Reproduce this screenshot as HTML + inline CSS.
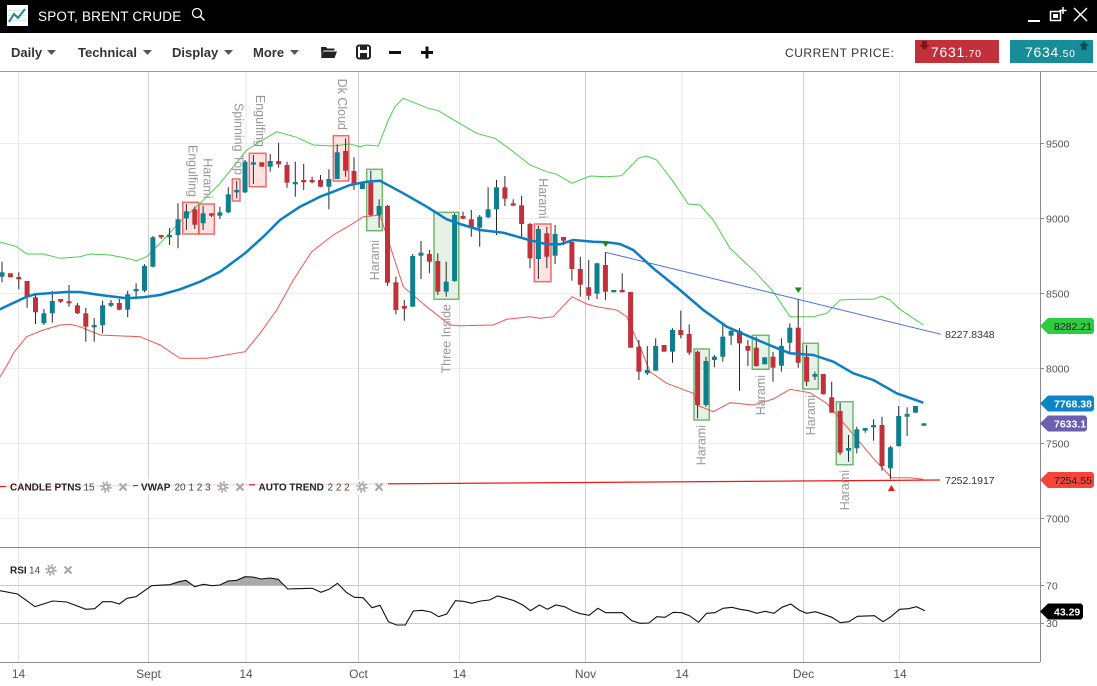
<!DOCTYPE html>
<html><head><meta charset="utf-8">
<style>
html,body{margin:0;padding:0;background:#fff;}
body{width:1097px;height:686px;overflow:hidden;position:relative;font-family:"Liberation Sans",sans-serif;}
svg{position:absolute;left:0;top:0;}
</style></head>
<body>
<svg width="1097" height="686" viewBox="0 0 1097 686" xmlns="http://www.w3.org/2000/svg" font-family="Liberation Sans, sans-serif">
<defs>
<clipPath id="main"><rect x="0" y="72" width="1040" height="475"/></clipPath>
<clipPath id="rsiTop"><rect x="0" y="548" width="1040" height="37.5"/></clipPath>
</defs>

<!-- HEADER -->
<rect x="0" y="0" width="1097" height="33" fill="#000"/>
<rect x="7" y="5" width="21" height="21" fill="#fff"/>
<g stroke="#e4e4e4" stroke-width="1"><line x1="8" y1="10.5" x2="27" y2="10.5"/><line x1="8" y1="15.5" x2="27" y2="15.5"/><line x1="8" y1="20.5" x2="27" y2="20.5"/></g>
<polyline points="9,22 14,14 18,18 25,9" fill="none" stroke="#1a8a96" stroke-width="2"/>
<text x="38" y="21" fill="#fff" font-size="13.5" letter-spacing="0.2">SPOT, BRENT CRUDE</text>
<circle cx="197" cy="13" r="4.5" fill="none" stroke="#fff" stroke-width="1.3"/>
<line x1="200.3" y1="16.3" x2="204.5" y2="20.5" stroke="#fff" stroke-width="1.5"/>
<line x1="1028" y1="21" x2="1040" y2="21" stroke="#fff" stroke-width="2"/>
<rect x="1050.5" y="11.5" width="10" height="9" fill="none" stroke="#fff" stroke-width="1.5"/>
<rect x="1053" y="14" width="5" height="4" fill="#fff"/>
<line x1="1063" y1="7" x2="1063" y2="14" stroke="#fff" stroke-width="1.5"/>
<line x1="1059.5" y1="10.5" x2="1066.5" y2="10.5" stroke="#fff" stroke-width="1.5"/>
<g stroke="#fff" stroke-width="1.5"><line x1="1074" y1="8" x2="1087" y2="21"/><line x1="1087" y1="8" x2="1074" y2="21"/></g>

<!-- TOOLBAR -->
<g font-size="13" font-weight="bold" fill="#333">
<text x="11" y="57">Daily</text>
<text x="78" y="57">Technical</text>
<text x="172" y="57">Display</text>
<text x="253" y="57">More</text>
</g>
<g fill="#555">
<polygon points="47,50 56,50 51.5,55"/>
<polygon points="143,50 152,50 147.5,55"/>
<polygon points="224,50 233,50 228.5,55"/>
<polygon points="290,50 299,50 294.5,55"/>
</g>
<!-- folder -->
<path d="M321,47 h5 l1.5,1.5 h7 v2 h-11 l-2,7 z" fill="#222"/>
<path d="M323.5,51.5 h13.5 l-2.5,6.5 h-13.5 z" fill="#222"/>
<!-- save -->
<rect x="357" y="45.5" width="13" height="13" rx="2" fill="none" stroke="#222" stroke-width="2"/>
<rect x="360" y="46" width="7" height="4" fill="#222"/>
<rect x="360" y="53" width="7" height="5" fill="#222"/>
<!-- minus / plus -->
<rect x="389" y="51" width="12" height="3" fill="#111"/>
<rect x="421" y="51" width="12" height="3" fill="#111"/>
<rect x="425.5" y="46.5" width="3" height="12" fill="#111"/>

<text x="785" y="57" font-size="12" letter-spacing="0.55" fill="#333">CURRENT PRICE:</text>
<rect x="915" y="40" width="84" height="23" fill="#c2303c"/>
<polygon points="922,41 927,41 927,45 929.5,45 924.5,50 919.5,45 922,45" fill="#7a1520"/>
<text x="931" y="57" font-size="14" fill="#fff" letter-spacing="0.7">7631<tspan font-size="10.5">.70</tspan></text>
<rect x="1010" y="40" width="83" height="23" fill="#178d99"/>
<polygon points="1084,41 1089,46 1086.5,46 1086.5,50 1081.5,50 1081.5,46 1079,46" fill="#0b4f58"/>
<text x="1025" y="57" font-size="14" fill="#fff" letter-spacing="0.7">7634<tspan font-size="10.5">.50</tspan></text>
<line x1="0" y1="71.5" x2="1097" y2="71.5" stroke="#9a9a9a" stroke-width="1"/>

<!-- GRID -->
<g stroke="#ececec" stroke-width="1">
<line x1="0" y1="143.5" x2="1040" y2="143.5"/>
<line x1="0" y1="218.5" x2="1040" y2="218.5"/>
<line x1="0" y1="293.5" x2="1040" y2="293.5"/>
<line x1="0" y1="368.5" x2="1040" y2="368.5"/>
<line x1="0" y1="443.5" x2="1040" y2="443.5"/>
<line x1="0" y1="518.5" x2="1040" y2="518.5"/>
</g>
<g stroke="#e6e6e6" stroke-width="1">
<line x1="18.5" y1="72" x2="18.5" y2="662"/>
<line x1="246" y1="72" x2="246" y2="662"/>
<line x1="459.5" y1="72" x2="459.5" y2="662"/>
<line x1="682" y1="72" x2="682" y2="662"/>
<line x1="899.5" y1="72" x2="899.5" y2="662"/>
</g>
<g stroke="#cfcfcf" stroke-width="1">
<line x1="148.5" y1="72" x2="148.5" y2="662"/>
<line x1="358.5" y1="72" x2="358.5" y2="662"/>
<line x1="585.5" y1="72" x2="585.5" y2="662"/>
<line x1="803.5" y1="72" x2="803.5" y2="662"/>
</g>

<g clip-path="url(#main)">
<!-- pattern boxes -->
<g fill="rgba(255,90,90,0.17)" stroke="rgba(240,80,80,0.85)" stroke-width="1.5">
<rect x="182.7" y="202.3" width="16" height="31.7"/>
<rect x="199" y="204" width="15.3" height="30"/>
<rect x="232.3" y="179" width="7.7" height="22"/>
<rect x="249.3" y="153.3" width="16.7" height="33.4"/>
<rect x="333.3" y="135.7" width="15.4" height="45.3"/>
<rect x="534.3" y="224" width="16.7" height="57.7"/>
</g>
<g fill="rgba(110,180,110,0.17)" stroke="rgba(100,175,100,0.9)" stroke-width="1.5">
<rect x="366.7" y="169.3" width="15.6" height="61.4"/>
<rect x="434" y="212.3" width="24.7" height="87"/>
<rect x="694" y="349" width="15.3" height="71"/>
<rect x="752.3" y="335.3" width="16.7" height="34"/>
<rect x="802.7" y="343.3" width="15.6" height="45.7"/>
<rect x="836.3" y="401.7" width="16.7" height="63"/>
</g>

<!-- bands -->
<polyline fill="none" stroke="#4ccf4c" stroke-width="1" points="0,242 16.7,246.7 26.7,254 43.3,254 60,258.3 80,256.7 90,254 110,255 126.7,258.3 136.7,260.7 146.7,256.7 160,243.3 180,221.7 200,203.3 220,183.3 246.7,150 260,141.7 276.7,131.7 296.7,137.3 313.3,145 333.3,146 350,144 360,146.7 366.7,145 378.3,146 388.3,120 395,106.7 403.3,98.3 428.3,108.3 438.3,110.7 456.7,121.7 476.7,133.3 495,138.3 513.3,151.7 530,165 546.7,171.7 556.7,174.3 572,183.3 590,176 606.7,176.7 621.7,175.7 638.3,158.3 646.7,156 656.7,160 673.3,181.7 688.3,204 700,205 713.3,220 730,248.3 755,271.7 773.3,291.7 790,316.7 813.3,316.7 826.7,313.3 840,300 856.7,299.3 873.3,299.3 881.7,296 890,300 900,309.3 913.3,318.3 923.3,325"/>
<polyline fill="none" stroke="#f2564e" stroke-width="1" points="0,377 10,360 13.3,353.3 26.7,336.7 43.3,330 60,325 70,324.3 80,326.7 100,335 140,336.7 160,345 180,358.3 206.7,358.3 245,351.7 260,333.3 276.7,310 293.3,280 311.7,251.7 333.3,235 353.3,223.3 363.3,216.7 380,215 403.3,286.7 426.7,306.7 450,325 460,325.7 493.3,325 506.7,319.3 530,316.7 540,318.3 553.3,316.7 572,296.7 586.7,304 596.7,306.7 616.7,310 626.7,316.7 640,346.7 650,371.7 666.7,383.3 680,388.3 693.3,393.3 696.7,405 713.3,411.7 730,402.7 753.3,405 773.3,399 790,389.3 810,392.7 826.7,403.3 846.7,426.7 873.3,458.3 891.7,477.7 910,477.7 923.3,479.3"/>

<!-- trend lines -->
<line x1="605.7" y1="252.3" x2="941" y2="334.3" stroke="#4a6cf0" stroke-width="1"/>
<line x1="0" y1="486.5" x2="940" y2="480" stroke="#f01818" stroke-width="1.3"/>

<!-- candles wicks -->
<g stroke="#2a2a2a" stroke-width="1">
<line x1="2" y1="261.7" x2="2" y2="282.3"/><line x1="10.4" y1="273.3" x2="10.4" y2="277.3"/><line x1="18.8" y1="272.3" x2="18.8" y2="289.3"/><line x1="27.1" y1="281" x2="27.1" y2="307.7"/><line x1="35.5" y1="293" x2="35.5" y2="324"/><line x1="43.9" y1="309" x2="43.9" y2="325"/><line x1="52.3" y1="291" x2="52.3" y2="322.7"/><line x1="60.7" y1="299" x2="60.7" y2="303"/><line x1="69" y1="285" x2="69" y2="306.7"/><line x1="77.4" y1="303" x2="77.4" y2="314"/>
<line x1="85.8" y1="308" x2="85.8" y2="341.7"/><line x1="94.2" y1="318" x2="94.2" y2="341.7"/><line x1="102.6" y1="300.7" x2="102.6" y2="333.3"/><line x1="111" y1="300" x2="111" y2="307"/><line x1="119.3" y1="299" x2="119.3" y2="310.3"/><line x1="127.7" y1="290.7" x2="127.7" y2="317.3"/><line x1="136.1" y1="283.3" x2="136.1" y2="298.3"/><line x1="144.5" y1="264.3" x2="144.5" y2="292.3"/><line x1="152.9" y1="236" x2="152.9" y2="267.3"/><line x1="161.2" y1="235" x2="161.2" y2="239"/>
<line x1="169.6" y1="228" x2="169.6" y2="245"/><line x1="178" y1="203.3" x2="178" y2="248.3"/><line x1="186.4" y1="204" x2="186.4" y2="230"/><line x1="194.8" y1="206.7" x2="194.8" y2="229"/><line x1="203.1" y1="206" x2="203.1" y2="230"/><line x1="211.5" y1="213.3" x2="211.5" y2="217"/><line x1="219.9" y1="206.7" x2="219.9" y2="219"/><line x1="228.3" y1="187.3" x2="228.3" y2="213.3"/><line x1="236.7" y1="181" x2="236.7" y2="198.3"/><line x1="245" y1="160" x2="245" y2="193"/>
<line x1="253.4" y1="155" x2="253.4" y2="184"/><line x1="261.8" y1="162.3" x2="261.8" y2="166.7"/><line x1="270.2" y1="154" x2="270.2" y2="171.7"/><line x1="278.6" y1="142.7" x2="278.6" y2="167.7"/><line x1="287" y1="161.7" x2="287" y2="187.7"/><line x1="295.3" y1="161.7" x2="295.3" y2="196.7"/><line x1="303.7" y1="164" x2="303.7" y2="190"/><line x1="312.1" y1="176.7" x2="312.1" y2="183.3"/><line x1="320.5" y1="175" x2="320.5" y2="187.3"/><line x1="328.9" y1="169.3" x2="328.9" y2="209.3"/>
<line x1="337.2" y1="144.3" x2="337.2" y2="179"/><line x1="345.6" y1="138.3" x2="345.6" y2="176.7"/><line x1="354" y1="157.3" x2="354" y2="190"/><line x1="362.4" y1="183.3" x2="362.4" y2="189"/><line x1="370.8" y1="170.7" x2="370.8" y2="216.7"/><line x1="379.1" y1="199.3" x2="379.1" y2="227.7"/><line x1="387.5" y1="205" x2="387.5" y2="285.7"/><line x1="395.9" y1="276.7" x2="395.9" y2="314.3"/><line x1="404.3" y1="300" x2="404.3" y2="320.7"/><line x1="412.7" y1="254" x2="412.7" y2="306.7"/>
<line x1="421" y1="241" x2="421" y2="279"/><line x1="429.4" y1="250" x2="429.4" y2="273.3"/><line x1="437.8" y1="253.3" x2="437.8" y2="295"/><line x1="446.2" y1="261.7" x2="446.2" y2="296.7"/><line x1="454.6" y1="213.3" x2="454.6" y2="281.7"/><line x1="463" y1="211.7" x2="463" y2="219.3"/><line x1="471.3" y1="210" x2="471.3" y2="236.7"/><line x1="479.7" y1="215" x2="479.7" y2="246.7"/><line x1="488.1" y1="187.3" x2="488.1" y2="218.3"/><line x1="496.5" y1="180" x2="496.5" y2="235"/>
<line x1="504.9" y1="176" x2="504.9" y2="206"/><line x1="513.2" y1="199.3" x2="513.2" y2="205.7"/><line x1="521.6" y1="196" x2="521.6" y2="236.7"/><line x1="530" y1="222.7" x2="530" y2="268.3"/><line x1="538.4" y1="225.7" x2="538.4" y2="279"/><line x1="546.8" y1="226.7" x2="546.8" y2="268.3"/><line x1="555.1" y1="225" x2="555.1" y2="264"/><line x1="563.5" y1="237" x2="563.5" y2="245"/><line x1="571.9" y1="242" x2="571.9" y2="280.7"/><line x1="580.3" y1="256.7" x2="580.3" y2="296.7"/>
<line x1="588.7" y1="260" x2="588.7" y2="300"/><line x1="597" y1="262.7" x2="597" y2="299"/><line x1="605.4" y1="252.3" x2="605.4" y2="300"/><line x1="613.8" y1="290" x2="613.8" y2="292.3"/><line x1="622.2" y1="273.3" x2="622.2" y2="292.3"/><line x1="630.6" y1="292" x2="630.6" y2="347.7"/><line x1="638.9" y1="340" x2="638.9" y2="380"/><line x1="647.3" y1="346" x2="647.3" y2="375"/><line x1="655.7" y1="338.3" x2="655.7" y2="370.7"/><line x1="664.1" y1="345" x2="664.1" y2="351.7"/>
<line x1="672.5" y1="328.3" x2="672.5" y2="362.7"/><line x1="680.8" y1="310.7" x2="680.8" y2="338.3"/><line x1="689.2" y1="324.3" x2="689.2" y2="355"/><line x1="697.6" y1="350.7" x2="697.6" y2="418.3"/><line x1="706" y1="356.7" x2="706" y2="406.7"/><line x1="714.4" y1="355" x2="714.4" y2="367.3"/><line x1="722.8" y1="325.3" x2="722.8" y2="361.7"/><line x1="731.1" y1="328.3" x2="731.1" y2="345"/><line x1="739.5" y1="328.3" x2="739.5" y2="390.7"/><line x1="747.9" y1="340" x2="747.9" y2="366"/>
<line x1="756.3" y1="336.7" x2="756.3" y2="366.7"/><line x1="764.7" y1="357.3" x2="764.7" y2="364.3"/><line x1="773" y1="351.7" x2="773" y2="381.7"/><line x1="781.4" y1="338.3" x2="781.4" y2="371.7"/><line x1="789.8" y1="323.3" x2="789.8" y2="352.7"/><line x1="798.2" y1="299.3" x2="798.2" y2="367.7"/><line x1="806.6" y1="345" x2="806.6" y2="386"/><line x1="814.9" y1="371.7" x2="814.9" y2="380"/><line x1="823.3" y1="374" x2="823.3" y2="394.3"/><line x1="831.7" y1="381.7" x2="831.7" y2="412.7"/>
<line x1="840.1" y1="402.7" x2="840.1" y2="455"/><line x1="848.5" y1="435" x2="848.5" y2="461.7"/><line x1="856.8" y1="426.7" x2="856.8" y2="453.3"/><line x1="865.2" y1="428" x2="865.2" y2="432.7"/><line x1="873.6" y1="419.3" x2="873.6" y2="440.7"/><line x1="882" y1="416.7" x2="882" y2="470.7"/><line x1="890.4" y1="446" x2="890.4" y2="479.3"/><line x1="898.7" y1="406" x2="898.7" y2="446.7"/><line x1="907.1" y1="407.3" x2="907.1" y2="436"/><line x1="915.5" y1="406" x2="915.5" y2="412.7"/>
<line x1="923.9" y1="423.3" x2="923.9" y2="425.7"/>
</g>
<!-- red bodies -->
<g fill="#c1303b">
<rect x="7.9" y="273.3" width="5" height="4"/><rect x="16.3" y="277" width="5" height="2.3"/><rect x="24.6" y="281" width="5" height="16.3"/><rect x="33" y="297.3" width="5" height="15"/><rect x="58.2" y="299" width="5" height="2.7"/><rect x="66.5" y="301.3" width="5" height="2"/><rect x="74.9" y="305.3" width="5" height="8"/><rect x="83.3" y="313.3" width="5" height="13.4"/><rect x="116.8" y="303" width="5" height="6.7"/><rect x="158.7" y="235" width="5" height="2.3"/>
<rect x="192.3" y="209.3" width="5" height="15.4"/><rect x="209" y="213.3" width="5" height="2.4"/><rect x="259.3" y="162.3" width="5" height="4.4"/><rect x="276.1" y="161" width="5" height="3.3"/><rect x="284.5" y="165" width="5" height="17.7"/><rect x="301.2" y="180" width="5" height="2.3"/><rect x="309.6" y="180" width="5" height="2.3"/><rect x="318" y="180" width="5" height="6.7"/><rect x="343.1" y="151" width="5" height="19.7"/><rect x="351.5" y="171" width="5" height="12.3"/>
<rect x="368.3" y="182.7" width="5" height="32.3"/><rect x="385" y="206" width="5" height="76.7"/><rect x="393.4" y="282.3" width="5" height="27.7"/><rect x="401.8" y="306" width="5" height="2.7"/><rect x="426.9" y="254" width="5" height="7.7"/><rect x="435.3" y="261" width="5" height="30.7"/><rect x="460.5" y="216" width="5" height="2.7"/><rect x="468.8" y="219.3" width="5" height="8"/><rect x="502.4" y="187.3" width="5" height="11.4"/><rect x="510.7" y="203.3" width="5" height="2.4"/>
<rect x="519.1" y="205.3" width="5" height="18.7"/><rect x="527.5" y="224" width="5" height="34.3"/><rect x="544.3" y="233.3" width="5" height="23.4"/><rect x="561" y="237" width="5" height="3.7"/><rect x="569.4" y="242" width="5" height="27"/><rect x="577.8" y="269" width="5" height="15.7"/><rect x="586.2" y="287.3" width="5" height="8.4"/><rect x="602.9" y="265" width="5" height="26.7"/><rect x="619.7" y="290" width="5" height="2.3"/><rect x="628.1" y="292" width="5" height="55.7"/>
<rect x="636.4" y="346.7" width="5" height="25"/><rect x="661.6" y="345" width="5" height="6.7"/><rect x="678.3" y="330" width="5" height="5"/><rect x="686.7" y="334" width="5" height="18.7"/><rect x="695.1" y="351.7" width="5" height="53.3"/><rect x="737" y="331" width="5" height="12.3"/><rect x="745.4" y="346" width="5" height="4.7"/><rect x="753.8" y="347.7" width="5" height="18.3"/><rect x="770.5" y="356.7" width="5" height="11"/><rect x="795.7" y="327.7" width="5" height="35"/>
<rect x="804.1" y="356.7" width="5" height="25"/><rect x="820.8" y="374" width="5" height="20.3"/><rect x="829.2" y="397.3" width="5" height="15.4"/><rect x="837.6" y="411" width="5" height="41.7"/><rect x="879.5" y="425" width="5" height="41"/>
</g>
<!-- teal bodies -->
<g fill="#0d7f8d">
<rect x="-0.5" y="272.3" width="5" height="4.4"/><rect x="41.4" y="313.3" width="5" height="10"/><rect x="49.8" y="301" width="5" height="12.3"/><rect x="91.7" y="325" width="5" height="2.3"/><rect x="100.1" y="305.3" width="5" height="19.7"/><rect x="108.5" y="303" width="5" height="2.7"/><rect x="125.2" y="294.3" width="5" height="15.4"/><rect x="133.6" y="289" width="5" height="2.3"/><rect x="142" y="266" width="5" height="24.7"/><rect x="150.4" y="237.3" width="5" height="29.4"/>
<rect x="167.1" y="235" width="5" height="2.3"/><rect x="175.5" y="219.3" width="5" height="15.7"/><rect x="183.9" y="211.3" width="5" height="7"/><rect x="200.6" y="213.3" width="5" height="10"/><rect x="217.4" y="212.3" width="5" height="3.4"/><rect x="225.8" y="194.3" width="5" height="18"/><rect x="234.2" y="190" width="5" height="2.3"/><rect x="242.5" y="161.7" width="5" height="30.6"/><rect x="250.9" y="162.3" width="5" height="2.4"/><rect x="267.7" y="161" width="5" height="5.7"/>
<rect x="292.8" y="182" width="5" height="2.3"/><rect x="326.4" y="179" width="5" height="7.7"/><rect x="334.7" y="152.3" width="5" height="26.7"/><rect x="359.9" y="183.3" width="5" height="5.7"/><rect x="376.6" y="206" width="5" height="9"/><rect x="410.2" y="256" width="5" height="50.7"/><rect x="418.5" y="252.7" width="5" height="3"/><rect x="443.7" y="281.7" width="5" height="10"/><rect x="452.1" y="215" width="5" height="66"/><rect x="477.2" y="216.7" width="5" height="11"/>
<rect x="485.6" y="209.3" width="5" height="8"/><rect x="494" y="187.3" width="5" height="22"/><rect x="535.9" y="229" width="5" height="30"/><rect x="552.6" y="234" width="5" height="21.7"/><rect x="594.5" y="263.3" width="5" height="30.4"/><rect x="611.3" y="290" width="5" height="2.3"/><rect x="644.8" y="370" width="5" height="3.3"/><rect x="653.2" y="346" width="5" height="24.7"/><rect x="670" y="330" width="5" height="21.7"/><rect x="703.5" y="361" width="5" height="44"/>
<rect x="711.9" y="356.7" width="5" height="3.3"/><rect x="720.3" y="336.7" width="5" height="20"/><rect x="728.6" y="331" width="5" height="4.7"/><rect x="762.2" y="357.3" width="5" height="7"/><rect x="778.9" y="346" width="5" height="19.7"/><rect x="787.3" y="327.7" width="5" height="15"/><rect x="812.4" y="374" width="5" height="2.7"/><rect x="846" y="448" width="5" height="2.7"/><rect x="854.3" y="429.3" width="5" height="19"/><rect x="862.7" y="428" width="5" height="2.7"/>
<rect x="871.1" y="425" width="5" height="2.3"/><rect x="887.9" y="447.3" width="5" height="21"/><rect x="896.2" y="416" width="5" height="30"/><rect x="904.6" y="414" width="5" height="2.7"/><rect x="913" y="406" width="5" height="6.7"/><rect x="921.4" y="423.3" width="5" height="2.4"/>
</g>

<!-- VWAP blue -->
<polyline fill="none" stroke="#0b7fc4" stroke-width="2.5" stroke-linejoin="round" points="0,309.5 2,308.3 26.7,296.7 35,294.3 66.7,292 80,292 100,295 126.7,298.3 143.3,297.3 160,295 180,289.3 200,281.7 220,271.7 245,253.3 263.3,236.7 280,220 300,206.7 320,196.7 333.3,191.7 350,185 366.7,181.7 380,180.7 403.3,193.3 426.7,206.7 446.7,219.3 460,224 480,230 503.3,232.7 526.7,239.3 546.7,244.3 560,244.3 573.3,240 593.3,241.7 606.7,242.3 620,244 633.3,250 653.3,268.3 680,290 703.3,310 726.7,326.7 753.3,338.3 773.3,346.7 790,353.3 813.3,355 833.3,361.7 853.3,373.3 873.3,380 896.7,393.3 923.3,402.7"/>

<!-- triangles -->
<polygon points="602.2,241.5 609.2,241.5 605.7,247" fill="#1a8a1a"/>
<polygon points="794.8,287.5 801.8,287.5 798.3,293" fill="#1a8a1a"/>
<polygon points="887.9,491 894.9,491 891.4,485" fill="#f01818"/>

<!-- pattern labels -->
<g font-size="12.5" fill="#999">
<text transform="translate(188.5,197) rotate(90)" text-anchor="end">Engulfing</text>
<text transform="translate(203.5,198.5) rotate(90)" text-anchor="end">Harami</text>
<text transform="translate(234.5,175) rotate(90)" text-anchor="end">Spinning Top</text>
<text transform="translate(256,147) rotate(90)" text-anchor="end">Engulfing</text>
<text transform="translate(338,130) rotate(90)" text-anchor="end">Dk Cloud</text>
<text transform="translate(539,218.5) rotate(90)" text-anchor="end">Harami</text>
<text transform="translate(379,240) rotate(-90)" text-anchor="end">Harami</text>
<text transform="translate(450.5,304) rotate(-90)" text-anchor="end">Three Inside</text>
<text transform="translate(705.5,425) rotate(-90)" text-anchor="end">Harami</text>
<text transform="translate(765,375) rotate(-90)" text-anchor="end">Harami</text>
<text transform="translate(815,395) rotate(-90)" text-anchor="end">Harami</text>
<text transform="translate(849,470) rotate(-90)" text-anchor="end">Harami</text>
</g>
</g>

<!-- trend labels -->
<text x="945" y="338" font-size="10.5" fill="#333">8227.8348</text>
<text x="945" y="484" font-size="10.5" fill="#333">7252.1917</text>

<!-- legend overlay -->
<g fill="rgba(255,255,255,0.82)">
<rect x="6" y="479" width="127" height="16"/>
<rect x="138" y="479" width="111" height="16"/>
<rect x="255" y="479" width="133" height="16"/>
</g>
<g font-size="10" fill="#222">
<text x="10" y="490.5" font-weight="bold">CANDLE PTNS</text><text x="83.5" y="490.5" fill="#444">15</text>
<text x="141" y="490.5" font-weight="bold">VWAP</text><text x="174.5" y="490.5" fill="#444">20 1 2 3</text>
<text x="258.5" y="490.5" font-weight="bold">AUTO TREND</text><text x="327.5" y="490.5" fill="#444">2 2 2</text>
<text x="10" y="573.5" font-weight="bold">RSI</text><text x="29" y="573.5" fill="#444">14</text>
</g>
<g id="gears">
<g transform="translate(106,487)"><circle r="4.6" fill="none" stroke="#aaa" stroke-width="2.2" stroke-dasharray="1.8 1.81"/><circle r="3.4" fill="#aaa"/><circle r="1.4" fill="#fff"/></g>
<g transform="translate(223,487)"><circle r="4.6" fill="none" stroke="#aaa" stroke-width="2.2" stroke-dasharray="1.8 1.81"/><circle r="3.4" fill="#aaa"/><circle r="1.4" fill="#fff"/></g>
<g transform="translate(362,487)"><circle r="4.6" fill="none" stroke="#aaa" stroke-width="2.2" stroke-dasharray="1.8 1.81"/><circle r="3.4" fill="#aaa"/><circle r="1.4" fill="#fff"/></g>
<g transform="translate(51,570)"><circle r="4.6" fill="none" stroke="#aaa" stroke-width="2.2" stroke-dasharray="1.8 1.81"/><circle r="3.4" fill="#aaa"/><circle r="1.4" fill="#fff"/></g>
</g>
<g stroke="#aaa" stroke-width="2.2">
<line x1="119.5" y1="483.5" x2="126.5" y2="490.5"/><line x1="126.5" y1="483.5" x2="119.5" y2="490.5"/>
<line x1="236.5" y1="483.5" x2="243.5" y2="490.5"/><line x1="243.5" y1="483.5" x2="236.5" y2="490.5"/>
<line x1="375.5" y1="483.5" x2="382.5" y2="490.5"/><line x1="382.5" y1="483.5" x2="375.5" y2="490.5"/>
<line x1="64.5" y1="566.5" x2="71.5" y2="573.5"/><line x1="71.5" y1="566.5" x2="64.5" y2="573.5"/>
</g>

<!-- RSI panel -->
<line x1="0" y1="547.5" x2="1040" y2="547.5" stroke="#8a8a8a" stroke-width="1"/>
<g stroke="#c9c9c9" stroke-width="1">
<line x1="0" y1="585.5" x2="1040" y2="585.5"/>
<line x1="0" y1="623.5" x2="1040" y2="623.5"/>
</g>
<polygon clip-path="url(#rsiTop)" fill="#aaa" points="0,585.5 0,590.7 17.5,594 35,606.7 52.6,601 66.7,602 86,609.3 94.7,608.7 102.8,601.7 111.6,601.7 119.3,604 127,598.3 136,596.7 151.6,585.7 169.8,584.7 179,581.7 186,580.3 194.7,586.7 203.5,584.3 212,585.7 220,585 228,581 236.8,580.3 245,576.7 252.6,577 261.4,579 270,578 278.2,579.3 287.7,589 296.5,588.7 312.3,588.3 330,588 330,585.5"/>
<polyline fill="none" stroke="#111" stroke-width="1.1" points="0,590.7 17.5,594 35,606.7 52.6,601 66.7,602 86,609.3 94.7,608.7 102.8,601.7 111.6,601.7 119.3,604 127,598.3 136,596.7 151.6,585.7 169.8,584.7 179,581.7 186,580.3 194.7,586.7 203.5,584.3 212,585.7 220,585 228,581 236.8,580.3 245,576.7 252.6,577 261.4,579 270,578 278.2,579.3 287.7,589 296.5,588.7 312.3,588.3 321,592.3 329,589.3 337.5,583.3 346.3,592.3 354.4,597.3 363,597.7 372,607.7 380,605.3 388.4,621.7 396.5,625 405.3,625 413.3,611 422,610.3 430.9,612 438.6,616.7 446.7,614 455.4,600.7 463.2,601.3 472,603.3 480.7,601 489.5,600 497.5,596 506.3,598.3 514,600.7 522.8,605 530.5,610.7 539.3,605 547.4,609.3 555.8,605 564.5,606.7 573.3,611.3 580.3,613.7 589.1,615.3 597.9,608.3 605.6,612.7 622.4,612.7 631.9,620.7 640,623.3 648.8,623 656.8,616.7 664.9,617.3 673.3,612.3 681.4,612.7 689.5,615.7 698.6,622.3 706.6,613.3 714.7,612.7 723.1,608.3 731.9,607.3 740,609.3 748.8,610.7 756.8,613.3 765.2,611.3 774,613.3 782,607.3 790.9,604 798.9,610 806.6,613.3 815.4,611.7 823.5,614.3 831.9,617.3 840.3,622.7 848.8,621.7 857.5,616.3 874.4,615.7 883.1,621.7 890.9,616.7 899.6,609.3 908.4,608.7 916.5,606.7 924.9,610.7"/>

<!-- axes -->
<line x1="1040.5" y1="72" x2="1040.5" y2="662" stroke="#8a8a8a" stroke-width="1"/>
<line x1="0" y1="662.5" x2="1040" y2="662.5" stroke="#8a8a8a" stroke-width="1"/>
<g stroke="#8a8a8a" stroke-width="1">
<line x1="1040" y1="143.5" x2="1044" y2="143.5"/><line x1="1040" y1="218.5" x2="1044" y2="218.5"/><line x1="1040" y1="293.5" x2="1044" y2="293.5"/><line x1="1040" y1="368.5" x2="1044" y2="368.5"/><line x1="1040" y1="443.5" x2="1044" y2="443.5"/><line x1="1040" y1="518.5" x2="1044" y2="518.5"/>
<line x1="1040" y1="585.5" x2="1044" y2="585.5"/><line x1="1040" y1="623.5" x2="1044" y2="623.5"/>
</g>
<g font-size="10.5" fill="#555">
<text x="1046" y="147.5">9500</text>
<text x="1046" y="222.5">9000</text>
<text x="1046" y="297.5">8500</text>
<text x="1046" y="372.5">8000</text>
<text x="1046" y="447.5">7500</text>
<text x="1046" y="522.5">7000</text>
<text x="1046" y="589.5">70</text>
<text x="1046" y="627">30</text>
</g>

<!-- badges -->
<polygon points="1040,326 1048,318 1092,318 1094,320 1094,332 1092,334 1048,334" fill="#2ecc40"/>
<text x="1054" y="330" font-size="10.5" fill="#1a1a1a">8282.21</text>
<polygon points="1040,403.5 1048,395.5 1092,395.5 1094,397.5 1094,409.5 1092,411.5 1048,411.5" fill="#0d84c6"/>
<text x="1054" y="407.5" font-size="10.5" font-weight="bold" fill="#fff">7768.38</text>
<polygon points="1040,423.5 1048,415.5 1085,415.5 1087,417.5 1087,429.5 1085,431.5 1048,431.5" fill="#6a5fb0"/>
<text x="1054" y="427.5" font-size="10.5" font-weight="bold" fill="#fff">7633.1</text>
<polygon points="1040,480 1048,472 1092,472 1094,474 1094,486 1092,488 1048,488" fill="#f5443a"/>
<text x="1054" y="484" font-size="10.5" fill="#1a1a1a">7254.55</text>
<polygon points="1040,611.5 1048,603.5 1081,603.5 1083,605.5 1083,617.5 1081,619.5 1048,619.5" fill="#000"/>
<text x="1054" y="615.5" font-size="10.5" font-weight="bold" fill="#fff">43.29</text>

<!-- x-axis labels -->
<g font-size="12" fill="#555" text-anchor="middle">
<text x="18.5" y="678">14</text>
<text x="148.5" y="678">Sept</text>
<text x="246" y="678">14</text>
<text x="358.5" y="678">Oct</text>
<text x="459.5" y="678">14</text>
<text x="585.5" y="678">Nov</text>
<text x="682" y="678">14</text>
<text x="803.5" y="678">Dec</text>
<text x="900" y="678">14</text>
</g>
</svg>
</body></html>
